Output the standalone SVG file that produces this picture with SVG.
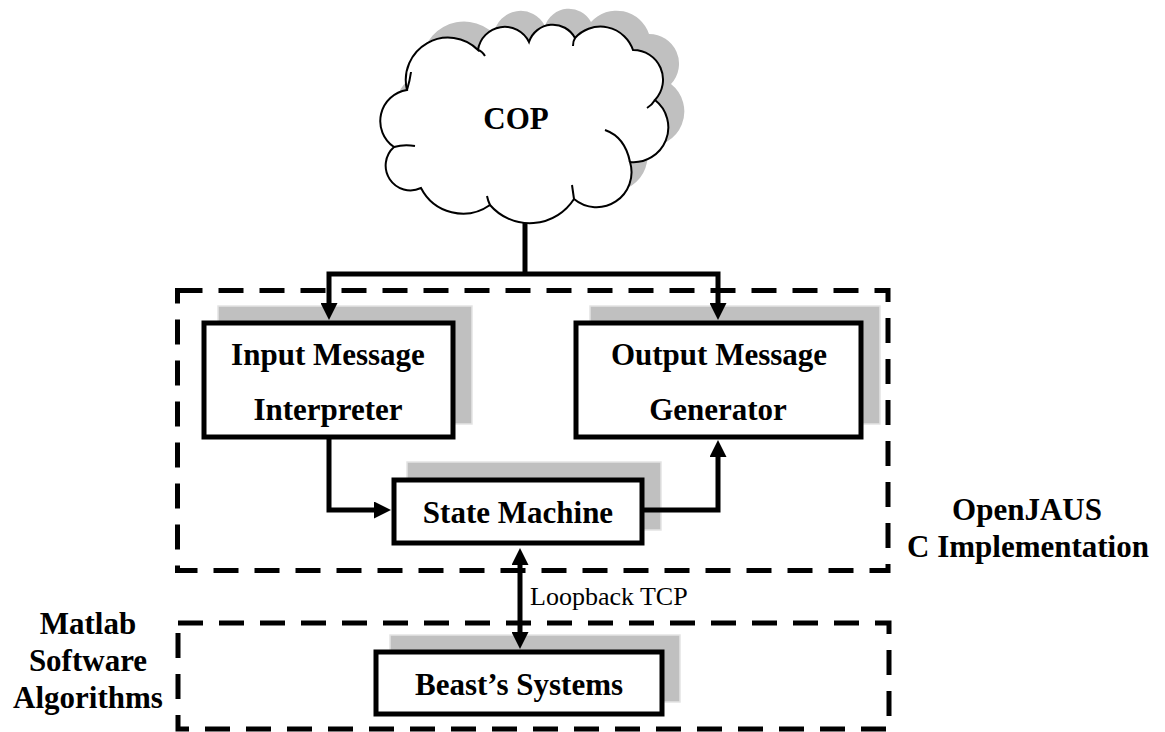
<svg xmlns="http://www.w3.org/2000/svg" width="1165" height="732" viewBox="0 0 1165 732">
<defs>
<style>
.box{fill:#fff;stroke:#000;stroke-width:5}
.shadow{fill:#c0c0c0;stroke:#e4e4e4;stroke-width:1.5}
.conn{fill:none;stroke:#000;stroke-width:5;stroke-linejoin:miter}
.dash{fill:none;stroke:#000;stroke-width:5;stroke-dasharray:25 16}
.lbl{font-family:"Liberation Serif","Times New Roman",serif;font-weight:bold;font-size:31px;fill:#000;text-anchor:middle}
.small{font-family:"Liberation Serif","Times New Roman",serif;font-size:26px;fill:#000}
.cloud{fill:#fff;stroke:#000;stroke-width:2}
.hook{fill:none;stroke:#000;stroke-width:2}
</style>
<marker id="ah" viewBox="0 0 17 17" refX="2" refY="8.5" markerWidth="17" markerHeight="17" markerUnits="userSpaceOnUse" orient="auto-start-reverse">
<path d="M0,0 L17,8.5 L0,17 z" fill="#000"/>
</marker>
<path id="cloudShape" d="M407,90 A42.3,42.3 0 0 1 478,50 A27,27 0 0 1 529,42 A25.1,25.1 0 0 1 575,38 A34.3,34.3 0 0 1 633,50 A29.7,29.7 0 0 1 655,100 A34.8,34.8 0 0 1 630,162 A35,35 0 0 1 574,199 A52.5,52.5 0 0 1 490,205 A47,47 0 0 1 421,188 A24.8,24.8 0 0 1 394,147 A31.4,31.4 0 0 1 407,90 Z"/>
</defs>

<g id="cop">
<use href="#cloudShape" transform="translate(16,-16)" fill="#c0c0c0"/>
<use href="#cloudShape" class="cloud"/>
<path class="hook" d="M478,50 Q482,51 485,56 M575,38 Q573,41 573,46 M655,100 Q652,105 647,108 M605,130 Q625,137 630,162 M574,199 Q573,192 572,185 M490,205 Q488,201 487,196 M394,147 Q404,144 415,146 M407,90 Q410,80 411,72"/>
<text class="lbl" x="516" y="129">COP</text>
</g>

<g id="openjaus-boundary">
<path class="dash" d="M177.5,290.5 H888 V570.5 H177.5 Z"/>
<text class="lbl" x="1027" y="520">OpenJAUS</text>
<text class="lbl" x="1028" y="557">C Implementation</text>
</g>

<g id="matlab-boundary">
<path class="dash" d="M178,623 H889 V729 H178 Z"/>
<text class="lbl" x="88" y="634">Matlab</text>
<text class="lbl" x="88" y="671">Software</text>
<text class="lbl" x="88" y="708">Algorithms</text>
</g>

<g id="input-message-interpreter">
<rect class="shadow" x="218" y="306" width="254" height="118"/>
<rect class="box" x="204" y="323" width="249" height="114"/>
<text class="lbl" x="328" y="365">Input Message</text>
<text class="lbl" x="328" y="420">Interpreter</text>
</g>

<g id="output-message-generator">
<rect class="shadow" x="590" y="306" width="290" height="118"/>
<rect class="box" x="576" y="323" width="285" height="114"/>
<text class="lbl" x="719" y="365">Output Message</text>
<text class="lbl" x="718" y="420">Generator</text>
</g>

<g id="state-machine">
<rect class="shadow" x="407" y="462" width="254" height="68"/>
<rect class="box" x="394" y="480" width="248" height="63"/>
<text class="lbl" x="518" y="523">State Machine</text>
</g>

<g id="beasts-systems">
<rect class="shadow" x="390" y="635" width="290" height="67"/>
<rect class="box" x="376" y="652" width="286" height="62"/>
<text class="lbl" x="519" y="695">Beast’s Systems</text>
</g>

<g id="connectors">
<path class="conn" d="M525,223 V274"/>
<path class="conn" d="M329,305 V274 H718 V305" marker-start="url(#ah)" marker-end="url(#ah)"/>
<path class="conn" d="M329,437 V510 H376" marker-end="url(#ah)"/>
<path class="conn" d="M642,510 H718 V455" marker-end="url(#ah)"/>
<path class="conn" d="M520,563 V634" marker-start="url(#ah)" marker-end="url(#ah)"/>
<text class="small" x="530" y="605">Loopback TCP</text>
</g>
</svg>
